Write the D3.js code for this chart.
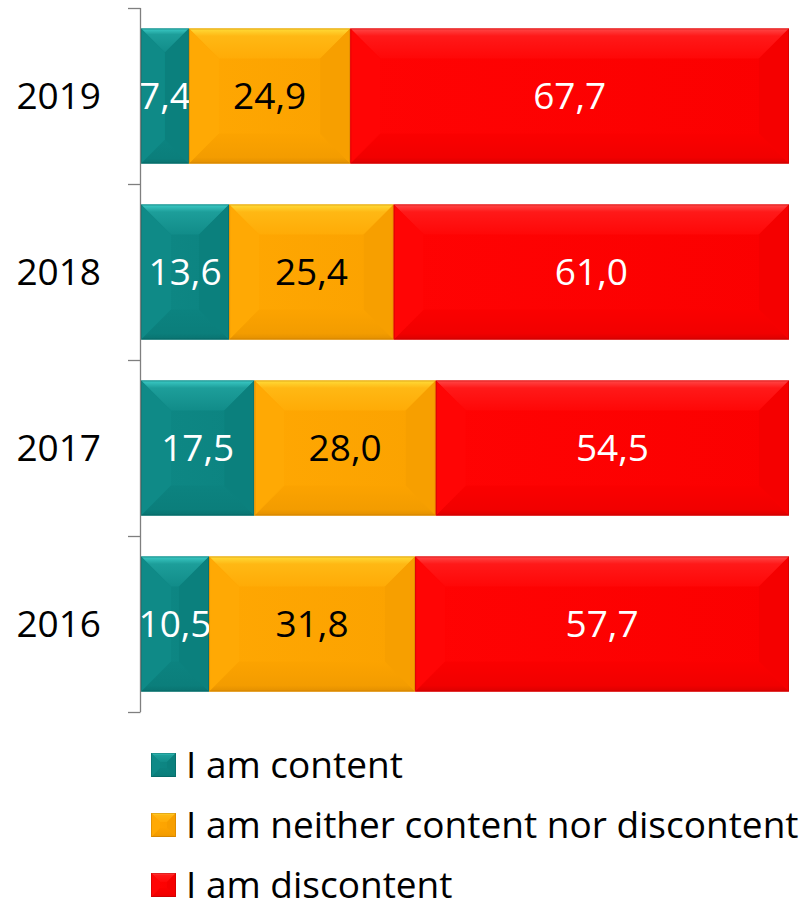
<!DOCTYPE html>
<html>
<head>
<meta charset="utf-8">
<script src="https://cdn.jsdelivr.net/npm/d3@7"></script>
<style>
  html, body { margin: 0; padding: 0; background: #fff; }
  svg { display: block; }
</style>
</head>
<body>
<svg id="chart" width="802" height="902"></svg>
<script>
// Survey years, top to bottom
const years = ["2019", "2018", "2017", "2016"];
// Share of answers per year (%)
const content     = [7.4, 13.6, 17.5, 10.5];
const neither     = [24.9, 25.4, 28.0, 31.8];
const discontent  = [67.7, 61.0, 54.5, 57.7];
const seriesNames = ["I am content", "I am neither content nor discontent", "I am discontent"];

const palette = [
  { face: "#0c8582", light: "#3ccbc6", dark: "#05605d", text: "#ffffff" },
  { face: "#ffa500", light: "#ffdc38", dark: "#c47800", text: "#000000" },
  { face: "#ff0000", light: "#ff4848", dark: "#b80000", text: "#ffffff" }
];

const svg = d3.select("#chart");
const defs = svg.append("defs");
const mix = (a, b, t) => d3.interpolateRgb(a, b)(t);

palette.forEach((p, i) => {
  const gTop = defs.append("linearGradient").attr("id", "top" + i)
    .attr("x1", 0).attr("y1", 0).attr("x2", 0).attr("y2", 1);
  gTop.append("stop").attr("offset", 0).attr("stop-color", p.light);
  gTop.append("stop").attr("offset", 0.25).attr("stop-color", mix(p.face, p.light, 0.35));
  gTop.append("stop").attr("offset", 1).attr("stop-color", mix(p.face, p.light, 0.1));
  const gBot = defs.append("linearGradient").attr("id", "bot" + i)
    .attr("x1", 0).attr("y1", 0).attr("x2", 0).attr("y2", 1);
  gBot.append("stop").attr("offset", 0).attr("stop-color", mix(p.face, p.dark, 0.05));
  gBot.append("stop").attr("offset", 0.8).attr("stop-color", mix(p.face, p.dark, 0.2));
  gBot.append("stop").attr("offset", 1).attr("stop-color", mix(p.face, p.dark, 0.5));
  const gFace = defs.append("linearGradient").attr("id", "face" + i)
    .attr("x1", 0).attr("y1", 0).attr("x2", 1).attr("y2", 0);
  gFace.append("stop").attr("offset", 0).attr("stop-color", mix(p.face, p.light, 0.04));
  gFace.append("stop").attr("offset", 1).attr("stop-color", mix(p.face, p.dark, 0.06));
});

const rows = years.map((y, i) => {
  const vals = [content[i], neither[i], discontent[i]];
  let acc = 0;
  return { year: y, segs: vals.map((v, k) => { const s = { k, v, x0: acc, x1: acc + v }; acc += v; return s; }) };
});

const x = d3.scaleLinear().domain([0, 100]).range([141, 789]);
const y = d3.scaleBand().domain(years).range([8, 712]).paddingInner(0.233).paddingOuter(0.1165);

// Beveled box drawing
function bevel(g, bx, by, w, h, k, depth) {
  const p = palette[k];
  const d = Math.min(depth, w / 2, h / 2);
  g.append("rect").attr("x", bx).attr("y", by).attr("width", w).attr("height", h)
    .attr("fill", `url(#face${k})`);
  const poly = (pts, fill) => g.append("polygon")
    .attr("points", pts.map(q => q.join(",")).join(" "))
    .attr("fill", fill);
  poly([[bx, by], [bx + w, by], [bx + w - d, by + d], [bx + d, by + d]], `url(#top${k})`);
  poly([[bx, by + h], [bx + w, by + h], [bx + w - d, by + h - d], [bx + d, by + h - d]], `url(#bot${k})`);
  poly([[bx, by], [bx + d, by + d], [bx + d, by + h - d], [bx, by + h]], mix(p.face, p.light, 0.07));
  poly([[bx + w, by], [bx + w - d, by + d], [bx + w - d, by + h - d], [bx + w, by + h]], mix(p.face, p.dark, 0.14));
  g.append("rect").attr("x", bx + 0.5).attr("y", by + 0.5).attr("width", w - 1).attr("height", h - 1)
    .attr("fill", "none").attr("stroke", p.dark).attr("stroke-opacity", 0.45).attr("stroke-width", 1);
}

const FONT = "'Open Sans', 'Noto Sans', sans-serif";
const FS = 37;

const barG = svg.append("g");
rows.forEach(r => {
  r.segs.forEach(s => {
    const g = barG.append("g");
    const bx = x(s.x0), w = x(s.x1) - x(s.x0);
    bevel(g, bx, y(r.year), w, y.bandwidth(), s.k, 30);
    g.append("text")
      .attr("x", bx + w / 2).attr("y", y(r.year) + y.bandwidth() / 2)
      .attr("dy", "0.36em").attr("text-anchor", "middle")
      .attr("font-family", FONT).attr("font-size", FS)
      .attr("fill", palette[s.k].text)
      .text(d3.format(".1f")(s.v).replace(".", ","));
  });
});

// Category axis on the left, ticks at band boundaries
const axisG = svg.append("g").attr("stroke", "#7f7f7f").attr("stroke-width", 1.3);
axisG.append("line").attr("x1", 140.5).attr("x2", 140.5).attr("y1", 8).attr("y2", 712);
const bounds = d3.range(years.length + 1).map(i => 8 + i * y.step());
axisG.selectAll("line.t").data(bounds).join("line").attr("class", "t")
  .attr("x1", 128).attr("x2", 140.5).attr("y1", d => Math.round(d) + 0.5).attr("y2", d => Math.round(d) + 0.5);

svg.append("g").selectAll("text").data(years).join("text")
  .attr("x", 101).attr("y", d => y(d) + y.bandwidth() / 2)
  .attr("dy", "0.36em").attr("text-anchor", "end")
  .attr("font-family", FONT).attr("font-size", FS)
  .attr("fill", "#000").text(d => d);

// Legend
const legend = svg.append("g");
seriesNames.forEach((name, k) => {
  const cy = 765 + k * 60;
  const g = legend.append("g");
  bevel(g, 151, cy - 12, 25, 24, k, 9);
  g.append("text").attr("x", 186).attr("y", cy).attr("dy", "0.36em")
    .attr("font-family", FONT).attr("font-size", FS)
    .attr("fill", "#000").text(name);
});
</script>
</body>
</html>
